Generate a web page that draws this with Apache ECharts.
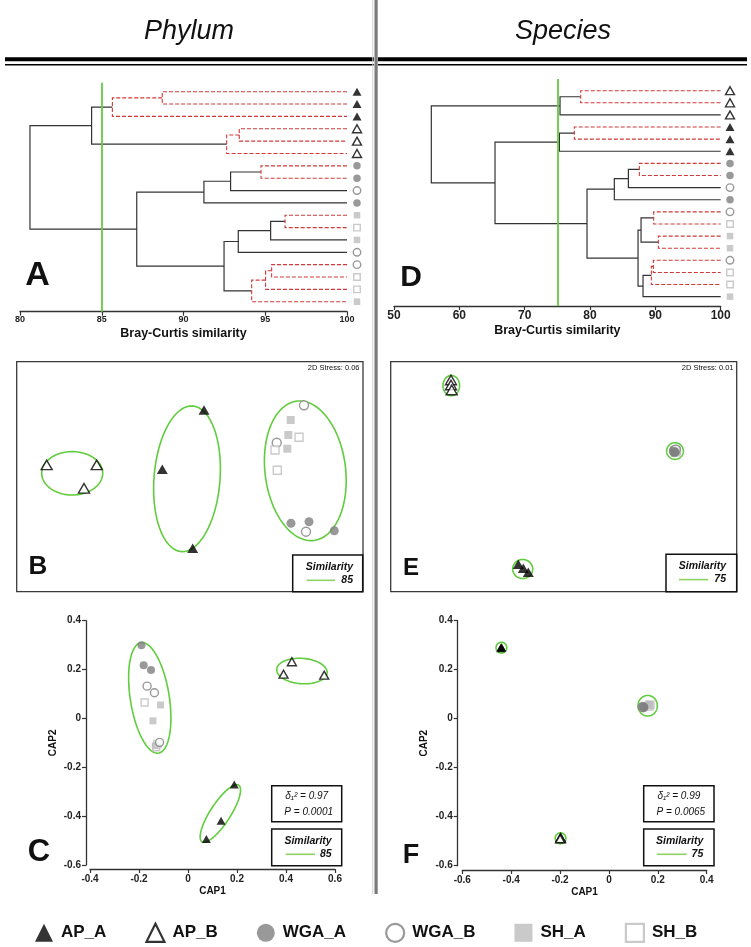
<!DOCTYPE html>
<html>
<head>
<meta charset="utf-8">
<script src="https://cdn.jsdelivr.net/npm/echarts@6/dist/echarts.min.js"></script>
<style>html,body{margin:0;padding:0;background:#fff;}#c{width:751px;height:947px;}</style>
</head>
<body>
<div id="c"></div>
<script>
// ---------------- DATA ----------------
const groups = ['AP_A', 'AP_B', 'WGA_A', 'WGA_B', 'SH_A', 'SH_B'];

// Dendrogram A (Phylum): leaf order top -> bottom
const phylumLeaves = ['AP_A','AP_A','AP_A','AP_B','AP_B','AP_B','WGA_A','WGA_A','WGA_B','WGA_A',
                      'SH_A','SH_B','SH_A','WGA_B','WGA_B','SH_B','SH_B','SH_A'];
// merges: [childA, childB, similarity, notSignificant(dashed)] ; ids >= 18 are earlier merges
const phylumMerges = [
  [0, 1, 88.70, 1], [18, 2, 85.65, 1], [3, 4, 93.41, 1], [20, 5, 92.64, 1], [19, 21, 84.38, 0],
  [6, 7, 94.74, 1], [23, 8, 92.88, 0], [24, 9, 91.25, 0],
  [10, 11, 96.21, 1], [26, 12, 95.33, 0], [27, 13, 93.35, 0],
  [14, 15, 95.39, 1], [29, 16, 95.02, 1], [30, 17, 94.17, 1],
  [28, 31, 92.48, 0], [25, 32, 87.14, 0], [22, 33, 80.61, 0]
];
// Dendrogram D (Species)
const speciesLeaves = ['AP_B','AP_B','AP_B','AP_A','AP_A','AP_A','WGA_A','WGA_A','WGA_B','WGA_A',
                       'WGA_B','SH_B','SH_A','SH_A','WGA_B','SH_B','SH_B','SH_A'];
const speciesMerges = [
  [0, 1, 78.57, 1], [18, 2, 75.41, 0], [3, 4, 77.60, 1], [20, 5, 75.31, 0],
  [6, 7, 87.55, 1], [22, 8, 85.87, 0], [23, 9, 83.72, 0],
  [10, 11, 89.74, 1], [12, 13, 90.46, 1], [25, 26, 87.81, 0],
  [14, 15, 89.69, 1], [28, 16, 89.39, 1], [29, 17, 88.11, 0],
  [27, 30, 87.35, 0], [24, 31, 79.54, 0], [21, 32, 65.46, 0], [19, 33, 55.71, 0]
];
const cutPhylum = 85;
const cutSpecies = 75;
const stressPhylum = '0.06';
const stressSpecies = '0.01';
const deltaPhylum = '0.97', pPhylum = '0.0001';
const deltaSpecies = '0.99', pSpecies = '0.0065';

// nMDS Phylum (B): [group, x, y] (relative ordination units)
const nmdsPhylum = [
  ['AP_B', 8.66, 55.1], ['AP_B', 23.1, 55.1], ['AP_B', 19.43, 44.96],
  ['AP_A', 54.09, 79.0], ['AP_A', 42.04, 53.2], ['AP_A', 50.82, 18.87],
  ['WGA_B', 82.96, 81.04], ['SH_A', 79.12, 74.65], ['SH_A', 78.43, 68.13], ['SH_B', 81.52, 67.13],
  ['WGA_B', 75.08, 64.78], ['SH_B', 74.59, 61.6], ['SH_A', 78.14, 62.17], ['SH_B', 75.25, 52.78],
  ['WGA_A', 79.21, 29.74], ['WGA_A', 84.41, 30.43], ['WGA_B', 83.54, 26.09], ['WGA_A', 91.71, 26.52]
];
// similarity contours: [cx, cy, rx, ry, tiltDeg]
const nmdsPhylumContours = [
  [16.03, 51.48, 8.81, 9.43, 0], [49.18, 49.09, 9.53, 31.74, 4.5], [83.34, 52.57, 11.64, 30.52, -7]
];
// nMDS Species (E)
const nmdsSpecies = [
  ['AP_B', 17.43, 92.04], ['AP_B', 17.43, 89.87], ['AP_B', 17.63, 87.7],
  ['SH_B', 82.4, 60.8], ['SH_B', 82.0, 61.3], ['SH_B', 82.5, 61.5],
  ['SH_A', 82.3, 60.9], ['SH_A', 82.6, 61.2], ['SH_A', 82.1, 60.6],
  ['WGA_B', 82.1, 61.5], ['WGA_B', 81.9, 61.2], ['WGA_B', 82.4, 61.8],
  ['WGA_A', 82.0, 60.4], ['WGA_A', 82.2, 60.8], ['WGA_A', 81.8, 61.0],
  ['AP_A', 36.88, 11.9], ['AP_A', 38.32, 10.17], ['AP_A', 39.77, 8.43]
];
const nmdsSpeciesContours = [
  [17.51, 89.6, 2.4, 4.4, 0], [82.17, 61.17, 2.41, 3.62, 0], [38.15, 9.87, 2.89, 4.13, 0]
];
// CAP Phylum (C)
const capPhylum = [
  ['AP_A', 0.189, -0.270], ['AP_A', 0.135, -0.419], ['AP_A', 0.075, -0.494],
  ['AP_B', 0.424, 0.232], ['AP_B', 0.390, 0.181], ['AP_B', 0.556, 0.177],
  ['SH_B', -0.177, 0.065], ['SH_B', -0.125, -0.105], ['SH_B', -0.130, -0.118],
  ['SH_A', -0.112, 0.055], ['SH_A', -0.143, -0.010], ['SH_A', -0.133, -0.112],
  ['WGA_B', -0.167, 0.132], ['WGA_B', -0.137, 0.105], ['WGA_B', -0.116, -0.098],
  ['WGA_A', -0.190, 0.300], ['WGA_A', -0.181, 0.218], ['WGA_A', -0.151, 0.198]
];
const capPhylumContours = [
  [-0.156, 0.084, 0.0796, 0.229, -9], [0.465, 0.194, 0.103, 0.052, 4], [0.132, -0.389, 0.041, 0.138, 33]
];
// CAP Species (F)
const capSpecies = [
  ['AP_A', -0.441, 0.293], ['AP_A', -0.438, 0.290], ['AP_A', -0.443, 0.288],
  ['AP_B', -0.198, -0.485], ['AP_B', -0.196, -0.489], ['AP_B', -0.200, -0.490],
  ['SH_B', 0.160, 0.052], ['SH_B', 0.166, 0.050], ['SH_B', 0.170, 0.057],
  ['SH_A', 0.165, 0.058], ['SH_A', 0.168, 0.055], ['SH_A', 0.162, 0.060],
  ['WGA_B', 0.136, 0.047], ['WGA_B', 0.138, 0.050], ['WGA_B', 0.140, 0.045],
  ['WGA_A', 0.142, 0.044], ['WGA_A', 0.145, 0.048], ['WGA_A', 0.140, 0.050]
];
const capSpeciesContours = [
  [-0.440, 0.290, 0.022, 0.022, 0], [-0.198, -0.488, 0.022, 0.022, 0], [0.1585, 0.053, 0.0395, 0.042, 0]
];

// ---------------- STYLE / BUILD ----------------
const FONT = '"Liberation Sans", Arial, Helvetica, sans-serif';
const GREEN = '#62cc3f';
function symbolStyle(g, sz) {
  const base = {
    AP_A: { symbol: 'triangle', size: sz.tri, itemStyle: { color: '#000', borderWidth: 0 } },
    AP_B: { symbol: 'triangle', size: sz.tri, itemStyle: { color: '#fff', borderColor: '#000', borderWidth: 1.4 } },
    WGA_A: { symbol: 'circle', size: sz.circle, itemStyle: { color: '#7f7f7f', borderWidth: 0 } },
    WGA_B: { symbol: 'circle', size: sz.circle, itemStyle: { color: '#fff', borderColor: '#7f7f7f', borderWidth: 1.4 } },
    SH_A: { symbol: 'rect', size: sz.rect, itemStyle: { color: '#bdbdbd', borderWidth: 0 } },
    SH_B: { symbol: 'rect', size: sz.rect, itemStyle: { color: '#fff', borderColor: '#bdbdbd', borderWidth: 1.4 } }
  };
  return base[g];
}
const SZ_DENDRO = { tri: [9, 8], circle: 7.5, rect: 6.5 };
const SZ_NMDS = { tri: [11, 9.5], circle: 9, rect: 8 };
const SZ_CAP = { tri: [9, 8], circle: 8, rect: 7 };

const series = [];
function scatter(gi, g, data, sz, extra) {
  const s = symbolStyle(g, sz);
  series.push(Object.assign({
    type: 'scatter', name: g, xAxisIndex: gi, yAxisIndex: gi, data: data,
    symbol: s.symbol, symbolSize: s.size, itemStyle: s.itemStyle, z: 3, clip: false, silent: true
  }, extra || {}));
}
function dendro(gi, leaves, merges, cut, off) {
  const n = leaves.length, pos = [];
  for (let i = 0; i < n; i++) pos[i] = [100, i];
  const solid = [], dashed = [];
  merges.forEach(([a, b, h, d], k) => {
    const pa = pos[a], pb = pos[b];
    (d ? dashed : solid).push({ coords: [[pa[0], pa[1]], [h, pa[1]], [h, pb[1]], [pb[0], pb[1]]] });
    pos[n + k] = [h, (pa[1] + pb[1]) / 2];
  });
  series.push({ type: 'lines', coordinateSystem: 'cartesian2d', xAxisIndex: gi, yAxisIndex: gi, polyline: true,
    data: solid, lineStyle: { color: '#333', width: 1.2, opacity: 1, type: 'solid' }, silent: true, z: 2 });
  series.push({ type: 'lines', coordinateSystem: 'cartesian2d', xAxisIndex: gi, yAxisIndex: gi, polyline: true,
    data: dashed, lineStyle: { color: '#d03a3a', width: 1.1, opacity: 1, type: [4, 2] }, silent: true, z: 2 });
  groups.forEach((g, gIdx) => {
    const pts = [];
    leaves.forEach((lg, i) => { if (lg === g) pts.push([100, i]); });
    const extra = { symbolOffset: [off, 0] };
    if (gIdx === 0) {
      extra.markLine = { silent: true, symbol: 'none', label: { show: false }, animation: false,
        lineStyle: { color: GREEN, width: 1.8, type: 'solid' }, data: [{ xAxis: cut }] };
    }
    scatter(gi, g, pts, SZ_DENDRO, extra);
  });
}
function contours(gi, list) {
  series.push({
    type: 'custom', xAxisIndex: gi, yAxisIndex: gi, data: list, silent: true, z: 2,
    encode: { x: 0, y: 1 },
    renderItem: function (params, api) {
      const c = api.coord([api.value(0), api.value(1)]);
      const s = api.size([api.value(2) * 2, api.value(3) * 2], [api.value(0), api.value(1)]);
      const rx = s[0] / 2, ry = s[1] / 2;
      const th = api.value(4) * Math.PI / 180;
      const pts = [];
      for (let k = 0; k < 90; k++) {
        const t = k / 90 * 2 * Math.PI;
        const dx = rx * Math.cos(t), dy = ry * Math.sin(t);
        pts.push([c[0] + dx * Math.cos(th) - dy * Math.sin(th), c[1] + dx * Math.sin(th) + dy * Math.cos(th)]);
      }
      return { type: 'polygon', shape: { points: pts }, style: { fill: 'none', stroke: GREEN, lineWidth: 1.6 } };
    }
  });
}
function points(gi, list, sz) {
  const order = [];
  list.forEach(r => { if (order.indexOf(r[0]) < 0) order.push(r[0]); });
  order.forEach(g => scatter(gi, g, list.filter(r => r[0] === g).map(r => [r[1], r[2]]), sz));
}

dendro(0, phylumLeaves, phylumMerges, cutPhylum, 10);
dendro(1, speciesLeaves, speciesMerges, cutSpecies, 9.3);
contours(2, nmdsPhylumContours); points(2, nmdsPhylum, SZ_NMDS);
contours(3, nmdsSpeciesContours); points(3, nmdsSpecies, SZ_NMDS);
contours(4, capPhylumContours); points(4, capPhylum, SZ_CAP);
contours(5, capSpeciesContours); points(5, capSpecies, SZ_CAP);

function dendroX(gi, min, max, interval, fs, margin, gap) {
  return { gridIndex: gi, type: 'value', min: min, max: max, interval: interval, position: 'bottom',
    axisLine: { show: true, onZero: false, lineStyle: { color: '#333', width: 1.3 } },
    axisTick: { show: true, length: 4, lineStyle: { color: '#333', width: 1.2 } },
    axisLabel: { fontSize: fs, fontWeight: 'bold', color: '#222', margin: margin, fontFamily: FONT },
    splitLine: { show: false },
    name: 'Bray-Curtis similarity', nameLocation: 'middle', nameGap: gap,
    nameTextStyle: { fontSize: 12.5, fontWeight: 'bold', color: '#111', fontFamily: FONT } };
}
function capAxis(gi, min, max, offset, name, extra) {
  return Object.assign({ gridIndex: gi, type: 'value', min: min, max: max, interval: 0.2, offset: offset,
    axisLine: { show: true, onZero: false, lineStyle: { color: '#333', width: 1.3 } },
    axisTick: { show: true, length: 4, lineStyle: { color: '#333', width: 1.2 } },
    axisLabel: { fontSize: 10, fontWeight: 'bold', color: '#222', margin: 5, fontFamily: FONT },
    splitLine: { show: false },
    name: name, nameLocation: 'middle',
    nameTextStyle: { fontSize: 10, fontWeight: 'bold', color: '#111', fontFamily: FONT } }, extra);
}
function hidden(gi) { return { gridIndex: gi, type: 'value', min: 0, max: 100, show: false, splitLine: { show: false } }; }

const boxGrid = { show: true, borderColor: '#3a3a3a', borderWidth: 1.3, backgroundColor: 'transparent', outerBoundsMode: 'none' };
const option = {
  animation: false,
  backgroundColor: '#fff',
  grid: [
    { left: 20, top: 82.7, width: 327, height: 229, outerBoundsMode: 'none' },
    { left: 394, top: 79, width: 326.7, height: 227, outerBoundsMode: 'none' },
    Object.assign({ left: 16.7, top: 361.7, width: 346.3, height: 230 }, boxGrid),
    Object.assign({ left: 390.7, top: 361.7, width: 346, height: 230 }, boxGrid),
    { left: 90, top: 620.7, width: 245, height: 244.3, outerBoundsMode: 'none' },
    { left: 462.3, top: 620.7, width: 244.4, height: 245, outerBoundsMode: 'none' }
  ],
  xAxis: [
    dendroX(0, 80, 100, 5, 9, 3, 15),
    dendroX(1, 50, 100, 10, 12, 4, 18),
    hidden(2), hidden(3),
    capAxis(4, -0.4, 0.6, 4, 'CAP1', { nameGap: 17 }),
    capAxis(5, -0.6, 0.4, 4.3, 'CAP1', { nameGap: 17 })
  ],
  yAxis: [
    { gridIndex: 0, type: 'value', min: -0.73, max: 17.81, inverse: true, show: false, splitLine: { show: false } },
    { gridIndex: 1, type: 'value', min: -0.965, max: 17.77, inverse: true, show: false, splitLine: { show: false } },
    hidden(2), hidden(3),
    capAxis(4, -0.6, 0.4, 4, 'CAP2', { nameGap: 28, nameRotate: 90 }),
    capAxis(5, -0.6, 0.4, 4.6, 'CAP2', { nameGap: 28, nameRotate: 90 })
  ],
  legend: {
    left: 35, top: 922.7, padding: 0, itemWidth: 18, itemHeight: 18, itemGap: 39, selectedMode: false,
    textStyle: { fontSize: 17, fontWeight: 'bold', color: '#111', fontFamily: FONT, padding: [0, 0, 0, 3] },
    data: groups.map(g => {
      const hollow = g.endsWith('_B');
      return { name: g, itemStyle: hollow ? { borderWidth: 2.2 } : { borderWidth: 0 } };
    })
  },
  series: series,
  graphic: []
};

// ---------------- DECORATION ----------------
const G = option.graphic;
function txt(x, y, text, font, align, extra) {
  G.push({ type: 'text', x: x, y: y, silent: true, z: 10,
    style: Object.assign({ text: text, font: font, fill: '#111', align: align || 'center', verticalAlign: 'middle' }, extra || {}) });
}
function rect(x, y, w, h, style) {
  G.push({ type: 'rect', shape: { x: x, y: y, width: w, height: h }, silent: true, z: 9, style: style });
}
function seg(x1, y1, x2, y2, color, w) {
  G.push({ type: 'line', shape: { x1: x1, y1: y1, x2: x2, y2: y2 }, silent: true, z: 11, style: { stroke: color, lineWidth: w } });
}
// titles
txt(189, 31.7, 'Phylum', 'italic 27px ' + FONT);
txt(563, 31.7, 'Species', 'italic 27px ' + FONT);
// double rules
rect(5, 57.3, 369, 4, { fill: '#000' });
rect(5, 64, 369, 1.5, { fill: '#000' });
rect(378, 57.3, 369, 4, { fill: '#000' });
rect(378, 64, 369, 1.5, { fill: '#000' });
// separator
rect(372.3, 0, 1, 894, { fill: '#d0d0d0' });
rect(374.5, 0, 3.2, 894, { fill: '#7a7a7a' });
// panel letters
txt(37.5, 276, 'A', 'bold 34px ' + FONT);
txt(411, 277.5, 'D', 'bold 30px ' + FONT);
txt(38, 566.5, 'B', 'bold 26px ' + FONT);
txt(411, 568.5, 'E', 'bold 24px ' + FONT);
txt(39, 852, 'C', 'bold 31px ' + FONT);
txt(411, 855.5, 'F', 'bold 27px ' + FONT);
// stress
txt(359.5, 368.3, '2D Stress: ' + stressPhylum, '7.5px ' + FONT, 'right');
txt(733.5, 368.3, '2D Stress: ' + stressSpecies, '7.5px ' + FONT, 'right');
// similarity boxes
function simBox(x, y, w, h, cut, lineX1, lineX2, textRight) {
  rect(x, y, w, h, { fill: '#fff', stroke: '#111', lineWidth: 1.5 });
  txt(textRight, y + 12.3, 'Similarity', 'italic bold 10.5px ' + FONT, 'right');
  seg(lineX1, y + 25.3, lineX2, y + 25.3, '#8fd163', 1.6);
  txt(textRight, y + 25.3, String(cut), 'italic bold 10.5px ' + FONT, 'right');
}
simBox(292.7, 555, 70, 36.7, cutPhylum, 306.7, 335, 353);
simBox(666, 554.3, 70.7, 37.4, cutSpecies, 679, 708.3, 726);
simBox(271.7, 829, 70, 36.7, cutPhylum, 285.7, 315, 331.7);
simBox(643.7, 829, 70.3, 36.7, cutSpecies, 656.7, 686.7, 703.3);
// CAP stats boxes
function statBox(x, y, w, h, delta, p) {
  rect(x, y, w, h, { fill: '#fff', stroke: '#111', lineWidth: 1.5 });
  txt(x + w / 2, y + 11, 'δ\u2081\u00b2 = ' + delta, 'italic 10px ' + FONT);
  txt(x + w / 2 + 2, y + 26.3, 'P = ' + p, 'italic 10px ' + FONT);
}
statBox(271.7, 785.7, 70, 36, deltaPhylum, pPhylum);
statBox(643.7, 785.7, 70.3, 36, deltaSpecies, pSpecies);

const chart = echarts.init(document.getElementById('c'), null, { renderer: 'canvas' });
chart.setOption(option);
</script>
</body>
</html>
